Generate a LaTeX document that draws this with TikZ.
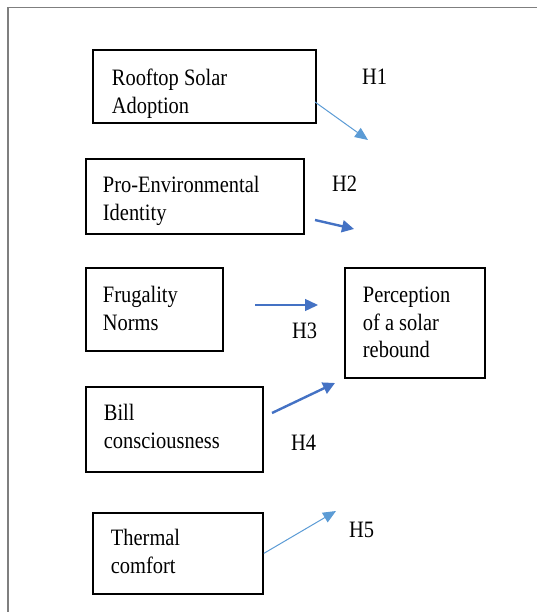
\documentclass[tikz,border=0pt]{standalone}
\usepackage{fontspec}
\setmainfont{Liberation Serif}[FakeStretch=0.87]
\usepackage{tikz}
\usetikzlibrary{arrows.meta}
\definecolor{lblue}{HTML}{5B9BD5}
\definecolor{dblue}{HTML}{4472C4}
\definecolor{frm}{HTML}{7F7F7F}

\begin{document}
\begin{tikzpicture}[x=1pt, y=-1pt,
  fac/.style={draw, line width=1.8pt, rectangle, anchor=north west,
    inner ysep=0pt, align=flush left, font=\fontsize{23.5}{27.5}\selectfont},
  lnk/.style={-{Triangle[length=13pt,width=11pt]}, line width=1pt, draw=lblue},
  lnkb/.style={-{Triangle[length=13pt,width=12pt]}, line width=1.4pt, draw=dblue},
  lnkk/.style={-{Triangle[length=12pt,width=12pt]}, line width=2.4pt, draw=dblue},
  hyp/.style={anchor=base west, inner sep=0pt, font=\fontsize{23.5}{27.5}\selectfont},
]
\useasboundingbox (0,0) rectangle (537,612);
\draw[frm, line width=1.5pt] (8,612) -- (8,7.5) -- (537,7.5);
% predictors and outcome
\node[fac, inner xsep=19pt, text width=185pt, text height=36pt, text depth=37pt]
  (roof) at (92,49) {Rooftop Solar\\Adoption};
\node[fac, inner xsep=17pt, text width=184pt, text height=34pt, text depth=41pt]
  (penv) at (85,158) {Pro-Environmental\\Identity};
\node[fac, inner xsep=17pt, text width=103pt, text height=35pt, text depth=48pt]
  (frug) at (85,267) {Frugality\\Norms};
\node[fac, inner xsep=18pt, text width=104pt, text height=35pt, text depth=75pt]
  (perc) at (344,267) {Perception\\of a solar\\rebound};
\node[fac, inner xsep=18pt, text width=141pt, text height=34pt, text depth=51pt]
  (bill) at (85,386) {Bill\\consciousness};
\node[fac, inner xsep=18pt, text width=134pt, text height=33pt, text depth=48pt]
  (therm) at (92,512) {Thermal\\comfort};
% arrow ends
\coordinate (s1) at (315,102); \coordinate (e1) at (368,140);
\coordinate (s2) at (315,220); \coordinate (e2) at (354,229);
\coordinate (s3) at (255,305); \coordinate (e3) at (318,305);
\coordinate (s4) at (272,413); \coordinate (e4) at (335,383);
\coordinate (e5) at (336,511);
\draw[lnk] (s1) -- (e1);
\draw[lnkk] (s2) -- (e2);
\draw[lnkb] (s3) -- (e3);
\draw[lnkk] (s4) -- (e4);
\draw[lnk] (therm.east) -- (e5);
% hypotheses
\node[hyp] (h1) at (362,85) {H1};
\node[hyp] (h2) at (332,192) {H2};
\node[hyp] (h3) at (292,338) {H3};
\node[hyp] (h4) at (291,450) {H4};
\node[hyp] (h5) at (349,537) {H5};
\end{tikzpicture}
\end{document}
